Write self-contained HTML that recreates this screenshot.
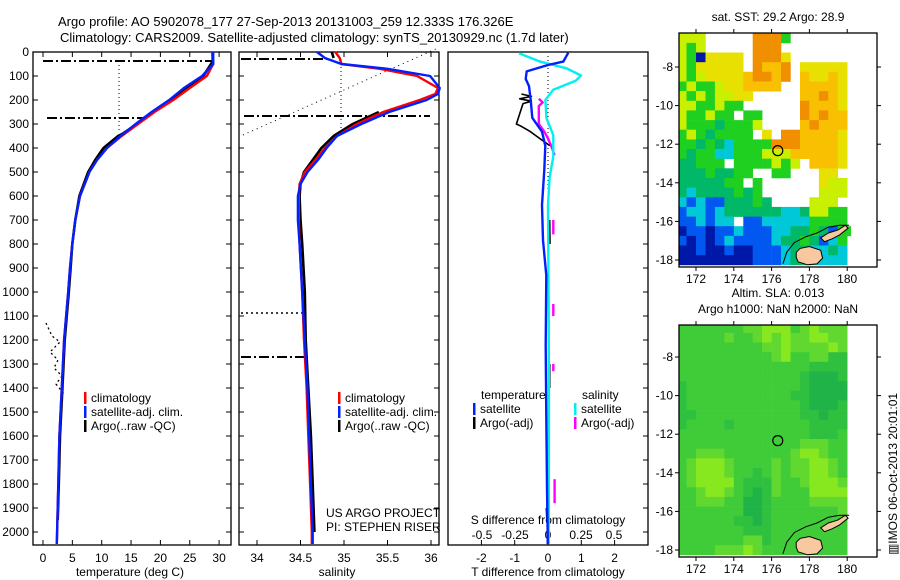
<!DOCTYPE html>
<html><head><meta charset="utf-8">
<style>
html,body{margin:0;padding:0;background:#fff;}
svg{display:block;font-family:"Liberation Sans",sans-serif;}
text{font-size:12px;fill:#000;}
</style></head>
<body>
<svg id="chart" width="900" height="580" viewBox="0 0 900 580" xmlns="http://www.w3.org/2000/svg">
<text x="58" y="26" style="font-size:13px">Argo profile: AO 5902078_177 27-Sep-2013 20131003_259 12.333S 176.326E</text>
<text x="60" y="42" style="font-size:13px">Climatology: CARS2009. Satellite-adjusted climatology: synTS_20130929.nc (1.7d later)</text>
<g id="g1"></g>
<g id="g2"></g>
<g id="g3"></g>
<g id="m1"></g>
<g id="m2"></g>
<text x="0" y="0" transform="translate(897,474) rotate(-90)" text-anchor="middle">▥IMOS 06-Oct-2013 20:01:01</text>
</svg>
<script>
// ---- profile data ----
const depthTC = [0,50,100,150,200,250,300,350,400,450,500,600,700,800,900,1000,1200,1400,1600,1800,2000,2050];
const tempClim = [28.8,29.0,27.9,25.0,22.2,19.0,16.2,13.4,10.9,9.2,7.9,6.3,5.5,5.0,4.6,4.3,3.6,3.2,2.8,2.6,2.4,2.35];
const tempSat  = [29.0,29.0,27.1,24.0,21.5,18.5,15.8,13.2,10.9,9.2,7.9,6.3,5.5,5.0,4.6,4.3,3.6,3.2,2.8,2.6,2.4,2.35];
const depthTA = [0,40,100,150,200,250,300,340,350,400,450,500,600,700,800,900,1000,1200,1400,1600,1800,1950];
const tempArgo = [28.9,28.9,27.3,24.3,21.6,18.8,16.0,13.6,12.8,10.3,8.9,7.7,6.2,5.5,5.0,4.7,4.4,3.7,3.3,2.9,2.7,2.5];
const depthS = [0,25,50,70,100,150,175,200,250,300,350,400,450,500,550,600,700,800,1000,1200,1400,1600,1800,2000,2050];
const salClim = [34.90,34.95,34.97,35.41,35.84,36.08,36.05,35.87,35.45,35.15,34.92,34.78,34.67,34.55,34.49,34.48,34.48,34.49,34.52,34.54,34.57,34.59,34.61,34.63,34.63];
const salSat  = [34.69,34.78,34.97,35.50,35.99,36.10,36.08,35.95,35.52,35.20,34.92,34.80,34.70,34.58,34.50,34.47,34.47,34.49,34.52,34.55,34.58,34.60,34.62,34.64,34.64];
const salArgo = [34.86,34.88,null,null,null,null,null,null,35.40,35.10,34.88,34.74,34.64,34.54,34.50,34.49,34.50,34.52,34.55,34.56,34.59,34.62,34.64,34.66,null];
const depthD = [3,40,54,81,112,142,200,274,332,391,492,637,784,931,1225,1517,1810,2013,2050];
const dTsat = [0.61,0.46,0.0,-0.64,-0.67,-0.57,-0.52,-0.47,-0.18,-0.08,-0.11,-0.18,-0.15,-0.05,-0.07,-0.05,-0.03,-0.01,-0.01];
const depthDS = [5,40,68,98,120,157,200,274,347,435,523,640,1080,1500,2050];
const dSsat = [-0.22,-0.06,0.14,0.25,0.21,0.04,-0.02,-0.012,0.04,0.04,0.012,0.0,0.005,0.007,0.005];
const depthDA = [175,185,195,205,215,300,310,330,350,370,390,null,700,800,null,1300,1400,null,1900,1960];
const dTargo = [-0.8,-0.5,-0.85,-0.5,-0.75,-0.95,-0.8,-0.55,-0.35,-0.15,0.05,null,0.05,0.06,null,0.05,0.05,null,-0.05,-0.03];
const depthSA = [195,210,225,300,330,360,400,430,null,700,760,null,1050,1100,null,1300,1330,null,1780,1880];
const dSargo = [-0.07,-0.04,-0.07,-0.07,-0.03,0.0,0.03,0.05,null,0.04,0.04,null,0.04,0.04,null,0.04,0.04,null,0.05,0.05];
const depthTicks = [0,100,200,300,400,500,600,700,800,900,1000,1100,1200,1300,1400,1500,1600,1700,1800,1900,2000];
const tempTicks = [0,5,10,15,20,25,30];
const salTicks = [34,34.5,35,35.5,36];
const salTickLabels = ["34","34.5","35","35.5","36"];
const dTTicks = [-2,-1,0,1,2];
const dSTicks = [-0.5,-0.25,0,0.25,0.5];
const dSTickLabels = ["-0.5","-0.25","0","0.25","0.5"];
// ---- map data (0.5 deg cells, rows from lat -6.25 southward, cols from lon 171) ----
const sstRows = [
"lll.....OOOg.......",
"lgl.....OOO........",
"lgnyyyy.OOOy.......",
"lgyyyyy.OYYO.yyyyy.",
"lglyyyyYOOYO.YyyYy.",
"glgglyyYYYY..YYYYy.",
"lglgllyy.....YYOYy.",
"llgglgg......OYYYy.",
"lgglgg.gg....OYOYY.",
"lgggtgggl....YOYYY.",
"glgtgggg.y.OOYYYYy.",
"ggtgtcggggOOOYYYYy.",
"gtggccggglllYYYYYy.",
"ttggg.gggglgl.YYYy.",
"tttgttgg..gg...yy..",
"tttttgg.g......yll.",
"tcttttgtg......lll.",
"cbcbbtttgt....lll..",
"bccbcttttttcctllgg.",
"bbcbcc.bbcccccgggg.",
"nbbnbbcbbbccttgtbgg",
"bnbnbcbbbbcttgtbcg.",
"nnbnnbnnbbbcttcctc.",
"nnnnnnnnbbbcttcccc."];
const slaRows = [
"gggggggllLLLglLlll.",
"ggggglgglLlLllLLll.",
"gggggggggllLllllLl.",
"gggggggggglLgglldd.",
"ggggggggggggggdddd.",
"gggggggggggggdDDDd.",
"dggggggggggggdDDDD.",
"dgggggggggggddDDDD.",
"dggggggggggggdDDDd.",
"ddgggggggggggddDdd.",
"dggggdggggggggdddd.",
"ggggggggggggggdddg.",
"ggggggggggggglllgg.",
"gglllggggggglLLlgg.",
"glLLLlgggglgllLLlg.",
"glLLLlggdglgllLLlg.",
"glLLLLgdddlgglLLLl.",
"gglLLlgdDdlgggLLLL.",
"gglllggDDdggggllll.",
"gggggggDDdgggggggl.",
"ggggggddDdgggggggg.",
"gggggggdddgggggggg.",
"ggggggglldgggggggg.",
"gggglllLlggggggggg."];
const mapLonTicks = [172,174,176,178,180];
const mapLatTicks = [-8,-10,-12,-14,-16,-18];
const argoLon = 176.326, argoLat = -12.333;

const NS = "http://www.w3.org/2000/svg";
function mk(parent, tag, attrs, txt){const e=document.createElementNS(NS,tag);for(const k in attrs)e.setAttribute(k,attrs[k]);if(txt!==undefined)e.textContent=txt;parent.appendChild(e);return e;}
const yD = d => 52 + d*0.24;

function frame(g,x0,x1,y0,y1,name){
  const r=mk(g,'rect',{x:x0,y:y0,width:x1-x0,height:y1-y0,fill:'none',stroke:'#000','stroke-width':1.3});
  
  
}
function depthTicksDraw(g,x0,x1,labels){
  depthTicks.forEach(d=>{const y=yD(d);
    mk(g,'line',{x1:x0,y1:y,x2:x0+5,y2:y,stroke:'#000'});
    mk(g,'line',{x1:x1-5,y1:y,x2:x1,y2:y,stroke:'#000'});
    if(labels){const t=mk(g,'text',{x:29,y:y+4,'text-anchor':'end'},String(d));
      
      }
  });
}
function line(g,xs,ds,xf,color,w,name,dash){
  let segs=[],cur=[];
  for(let i=0;i<ds.length;i++){
    if(ds[i]===null||xs[i]===null){if(cur.length)segs.push(cur);cur=[];continue;}
    cur.push(xf(xs[i]).toFixed(1)+','+yD(ds[i]).toFixed(1));
  }
  if(cur.length)segs.push(cur);
  segs.forEach(s=>{
    const p=mk(g,'polyline',{points:s.join(' '),fill:'none',stroke:color,'stroke-width':w,'stroke-linejoin':'round'});
    if(dash)p.setAttribute('stroke-dasharray',dash);
    
    
  });
}
function legend(g,x,y0,items){
  items.forEach((it,i)=>{const y=y0+i*14;
    mk(g,'rect',{x:x,y:y-10,width:2.5,height:12,fill:it[0]});
    const t=mk(g,'text',{x:x+7,y:y},it[1]);
    
    
  });
}

// Panel 1: temperature
const g1=document.getElementById('g1');
const xT = t => 43 + t*5.87;
frame(g1,33,231,52,545,'temperature-axes');
depthTicksDraw(g1,33,231,true);
tempTicks.forEach(v=>{const x=xT(v);
  mk(g1,'line',{x1:x,y1:545,x2:x,y2:540,stroke:'#000'});mk(g1,'line',{x1:x,y1:52,x2:x,y2:57,stroke:'#000'});
  const t=mk(g1,'text',{x:x,y:562,'text-anchor':'middle'},String(v));
  
  });
let t1=mk(g1,'text',{x:130,y:576,'text-anchor':'middle'},'temperature (deg C)');


mk(g1,'line',{x1:43,y1:61,x2:212,y2:61,stroke:'#000','stroke-width':2,'stroke-dasharray':'10,3,2,3'});
mk(g1,'line',{x1:47,y1:118,x2:145,y2:118,stroke:'#000','stroke-width':2,'stroke-dasharray':'10,3,2,3'});
mk(g1,'line',{x1:119,y1:61,x2:119,y2:131,stroke:'#000','stroke-width':1,'stroke-dasharray':'1,3'});
mk(g1,'polyline',{points:'46,323 52,336 60,342 50,352 58,360 54,368 62,376 56,384 64,394',fill:'none',stroke:'#000','stroke-width':1.3,'stroke-dasharray':'2,3'});
line(g1,tempArgo,depthTA,xT,'#000',2.6,'argo-temperature-line');
line(g1,tempClim,depthTC,xT,'#f00',2.4,'climatology-temperature-line');
line(g1,tempSat,depthTC,xT,'#0020ff',2.4,'satellite-temperature-line');
legend(g1,84,402,[['#f00','climatology'],['#0020ff','satellite-adj. clim.'],['#000','Argo(..raw -QC)']]);

// Panel 2: salinity
const g2=document.getElementById('g2');
const xS = s => 257 + (s-34)*87;
frame(g2,239,439,52,545,'salinity-axes');
depthTicksDraw(g2,239,439,false);
salTicks.forEach((v,i)=>{const x=xS(v);
  mk(g2,'line',{x1:x,y1:545,x2:x,y2:540,stroke:'#000'});mk(g2,'line',{x1:x,y1:52,x2:x,y2:57,stroke:'#000'});
  const t=mk(g2,'text',{x:x,y:562,'text-anchor':'middle'},salTickLabels[i]);
  
  });
let t2=mk(g2,'text',{x:337,y:576,'text-anchor':'middle'},'salinity');


mk(g2,'line',{x1:241,y1:59,x2:330,y2:59,stroke:'#000','stroke-width':2,'stroke-dasharray':'10,3,2,3'});
mk(g2,'line',{x1:244,y1:116,x2:430,y2:116,stroke:'#000','stroke-width':2,'stroke-dasharray':'10,3,2,3'});
mk(g2,'line',{x1:341,y1:59,x2:341,y2:133,stroke:'#000','stroke-width':1,'stroke-dasharray':'1,3'});
mk(g2,'line',{x1:243,y1:135,x2:438,y2:48,stroke:'#000','stroke-width':1,'stroke-dasharray':'1,4'});
mk(g2,'line',{x1:241,y1:313,x2:305,y2:313,stroke:'#000','stroke-width':1.5,'stroke-dasharray':'2,3'});
mk(g2,'line',{x1:241,y1:357,x2:307,y2:357,stroke:'#000','stroke-width':2,'stroke-dasharray':'10,3,2,3'});
line(g2,salArgo,depthS,xS,'#000',2.6,'argo-salinity-line');
line(g2,salClim,depthS,xS,'#f00',2.4,'climatology-salinity-line');
line(g2,salSat,depthS,xS,'#0020ff',2.4,'satellite-salinity-line');
legend(g2,338,402,[['#f00','climatology'],['#0020ff','satellite-adj. clim.'],['#000','Argo(..raw -QC)']]);
let p1=mk(g2,'text',{x:326,y:517},'US ARGO PROJECT');


let p2=mk(g2,'text',{x:326,y:531},'PI: STEPHEN RISER');



// Panel 3: differences
const g3=document.getElementById('g3');
const xDT = v => 548 + v*33.3;
const xDS = v => 548 + v*132;
frame(g3,448,648,52,545,'difference-axes');
depthTicks.forEach(d=>mk(g3,'line',{x1:643,y1:yD(d),x2:648,y2:yD(d),stroke:'#000'}));
dTTicks.forEach(v=>{const x=xDT(v);
  mk(g3,'line',{x1:x,y1:545,x2:x,y2:540,stroke:'#000'});
  const t=mk(g3,'text',{x:x,y:562,'text-anchor':'middle'},String(v));
  
  });
dSTicks.forEach((v,i)=>{const x=xDS(v);
  const t=mk(g3,'text',{x:x,y:539,'text-anchor':'middle'},dSTickLabels[i]);
  
  });
let t3=mk(g3,'text',{x:548,y:576,'text-anchor':'middle'},'T difference from climatology');


let t4=mk(g3,'text',{x:548,y:524,'text-anchor':'middle'},'S difference from climatology');


mk(g3,'line',{x1:548,y1:56,x2:548,y2:200,stroke:'#000','stroke-width':1,'stroke-dasharray':'1,3'});
line(g3,dSargo,depthSA,xDS,'#f0f',2.4,'argo-salinity-diff-line');
line(g3,dTargo,depthDA,xDT,'#000',1.6,'argo-temperature-diff-line');
line(g3,dSsat,depthDS,xDS,'#00f0f0',2.4,'satellite-salinity-diff-line');
line(g3,dTsat,depthD,xDT,'#0020ff',2.4,'satellite-temperature-diff-line');
let lt=mk(g3,'text',{x:481,y:399},'temperature');


let ls=mk(g3,'text',{x:582,y:399},'salinity');


legend(g3,473,413,[['#0020ff','satellite'],['#000','Argo(-adj)']]);
legend(g3,574,413,[['#00f0f0','satellite'],['#f0f','Argo(-adj)']]);

// Maps
const lonX = l => 696 + (l-172)*18.9;
function drawMap(gid,rows,colors,top,bottom,y8,title,name){
  const g=document.getElementById(gid);
  const latY = L => y8 + (-8-L)*19.3;
  const cid='clip'+gid;
  const cp=mk(g,'clipPath',{id:cid});
  mk(cp,'rect',{x:679,y:top,width:lonX(180.2)-679,height:bottom-top});
  const cells=mk(g,'g',{'clip-path':'url(#'+cid+')'});
  rows.forEach((row,r)=>{
    for(let c=0;c<row.length;c++){
      const ch=row[c]; if(!colors[ch]) continue;
      const lon=171+0.5*c, lat=-6.25-0.5*r;
      const x=lonX(lon), y=latY(lat);
      const cell=mk(cells,'rect',{x:x.toFixed(1),y:y.toFixed(1),width:9.7,height:10,fill:colors[ch]});
      
      
    }
  });
  const P=pts=>pts.map(p=>lonX(p[0]).toFixed(1)+','+latY(p[1]).toFixed(1)).join(' ');
  const land=mk(g,'g',{});
  
  
  mk(land,'polyline',{points:P([[176.6,-18.2],[176.8,-17.6],[177.2,-17.1],[177.8,-16.8],[178.4,-16.6],[179.0,-16.3],[179.6,-16.2],[180.1,-16.2]]),fill:'none',stroke:'#000','stroke-width':1});
  mk(land,'polygon',{points:P([[177.3,-17.6],[177.5,-17.4],[178.0,-17.3],[178.6,-17.5],[178.7,-17.9],[178.4,-18.2],[177.9,-18.25],[177.4,-18.1],[177.3,-17.85]]),fill:'#f8c8a0',stroke:'#000','stroke-width':1});
  mk(land,'polygon',{points:P([[178.6,-16.85],[179.0,-16.6],[179.5,-16.45],[179.9,-16.2],[180.05,-16.35],[179.6,-16.7],[179.2,-16.9],[178.8,-17.05]]),fill:'#f8c8a0',stroke:'#000','stroke-width':1});
  const ac=mk(g,'circle',{cx:lonX(argoLon),cy:latY(argoLat),r:5,fill:'none',stroke:'#000','stroke-width':1.2});
  
  
  frame(g,679,877,top,bottom,name+'-frame');
  mapLonTicks.forEach(l=>{const x=lonX(l);
    mk(g,'line',{x1:x,y1:bottom,x2:x,y2:bottom+4,stroke:'#000'});mk(g,'line',{x1:x,y1:top,x2:x,y2:top-4,stroke:'#000'});
    const t=mk(g,'text',{x:x,y:bottom+16,'text-anchor':'middle'},String(l));
    
    });
  mapLatTicks.forEach(L=>{const y=latY(L);
    mk(g,'line',{x1:679,y1:y,x2:675,y2:y,stroke:'#000'});mk(g,'line',{x1:877,y1:y,x2:881,y2:y,stroke:'#000'});
    const t=mk(g,'text',{x:673,y:y+4,'text-anchor':'end'},String(L));
    
    });
  title.forEach((s,i)=>{const t=mk(g,'text',{x:778,y:top-12-16*(title.length-1-i),'text-anchor':'middle'},s);
    
    });
}
drawMap('m1',sstRows,{l:'#c8f000',y:'#e8e000',Y:'#f8c000',O:'#f09000',g:'#20d020',t:'#00b868',c:'#00c8d8',b:'#0058f0',n:'#0018a8'},33,267,67,['sat. SST: 29.2 Argo: 28.9'],'sst-map');
drawMap('m2',slaRows,{g:'#40cc38',l:'#60d830',L:'#88e820',d:'#30c040',D:'#20b448'},325,557,357,['Altim. SLA: 0.013','Argo h1000: NaN h2000: NaN'],'sla-map');
</script>
</body></html>
